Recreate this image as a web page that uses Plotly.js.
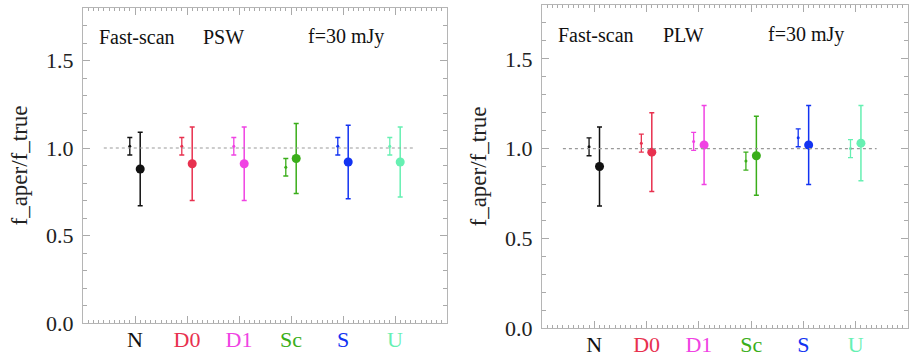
<!DOCTYPE html>
<html>
<head>
<meta charset="utf-8">
<script src="https://cdn.plot.ly/plotly-3.0.1.min.js"></script>
<style>html,body{margin:0;padding:0;background:#fff;}#chart{width:909px;height:364px;}</style>
</head>
<body>
<div id="chart"></div>
<script>
// Categories and colours
const categories = ["N", "D0", "D1", "Sc", "S", "U"];
const catColors = ["#111111", "#e8314f", "#f043e3", "#3aae1a", "#1233f2", "#66f0b2"];
const catPos = [1, 2, 3, 4, 5, 6];

// PSW panel (left): small bars (reference) and big points (aperture)
const pswSmallVal = [1.01, 1.01, 1.01, 0.89, 1.01, 1.01];
const pswSmallErr = [0.05, 0.05, 0.05, 0.05, 0.05, 0.05];
const pswBigVal = [0.88, 0.91, 0.91, 0.94, 0.92, 0.92];
const pswBigErr = [0.21, 0.21, 0.21, 0.20, 0.21, 0.20];

// PLW panel (right)
const plwSmallVal = [1.01, 1.03, 1.04, 0.93, 1.06, 1.00];
const plwSmallErr = [0.05, 0.05, 0.05, 0.05, 0.05, 0.05];
const plwBigVal = [0.90, 0.98, 1.02, 0.96, 1.02, 1.03];
const plwBigErr = [0.22, 0.22, 0.22, 0.22, 0.22, 0.21];

const panelNames = ["PSW", "PLW"];
const modeLabel = "Fast-scan";
const fluxLabel = "f=30 mJy";
const yTitle = "f_aper/f_true";
const offset = 0.1;

const FONT = "Liberation Serif";
const traces = [];

function addPanel(smallVal, smallErr, bigVal, bigErr, xa, ya) {
  for (let i = 0; i < categories.length; i++) {
    traces.push({
      x: [catPos[i] - offset], y: [smallVal[i]], xaxis: xa, yaxis: ya,
      type: "scatter", mode: "markers",
      marker: {size: 3, color: catColors[i]},
      error_y: {type: "data", array: [smallErr[i]], visible: true, color: catColors[i], thickness: 1.3, width: 2.5},
      showlegend: false, hoverinfo: "skip"
    });
    traces.push({
      x: [catPos[i] + offset], y: [bigVal[i]], xaxis: xa, yaxis: ya,
      type: "scatter", mode: "markers",
      marker: {size: 9, color: catColors[i]},
      error_y: {type: "data", array: [bigErr[i]], visible: true, color: catColors[i], thickness: 1.5, width: 2.5},
      showlegend: false, hoverinfo: "skip"
    });
  }
  traces.push({
    x: [0.4, 6.4], y: [1.0, 1.0], xaxis: xa, yaxis: ya,
    type: "scatter", mode: "lines",
    line: {color: "#999999", width: 1.2, dash: "dot"},
    showlegend: false, hoverinfo: "skip"
  });
}
addPanel(pswSmallVal, pswSmallErr, pswBigVal, pswBigErr, "x", "y");
addPanel(plwSmallVal, plwSmallErr, plwBigVal, plwBigErr, "x2", "y2");

const tickText = categories.map((c, i) => `<span style="color:${catColors[i]}">${c}</span>`);

function xAxis(domain, anchor) {
  return {
    domain: domain, anchor: anchor, range: [0, 7],
    tickmode: "array", tickvals: catPos, ticktext: tickText,
    ticks: "inside", ticklen: 7, tickwidth: 1, tickcolor: "#aaaaaa",
    minor: {dtick: 0.1, tick0: 0, ticks: "inside", ticklen: 3, tickcolor: "#aaaaaa", tickwidth: 1},
    showline: true, linecolor: "#b5b5b5", linewidth: 1, mirror: "ticks",
    showgrid: false, zeroline: false,
    tickfont: {family: FONT, size: 22, color: "#111"},
    ticklabelstandoff: -3
  };
}
function yAxis(domain, anchor) {
  return {
    domain: domain, anchor: anchor, range: [0, 1.8],
    tickvals: [0, 0.5, 1.0, 1.5], ticktext: ["0.0", "0.5", "1.0", "1.5"], tickmode: "array",
    ticks: "inside", ticklen: 7, tickwidth: 1, tickcolor: "#aaaaaa",
    minor: {dtick: 0.1, tick0: 0, ticks: "inside", ticklen: 4, tickcolor: "#aaaaaa", tickwidth: 1},
    showline: true, linecolor: "#b5b5b5", linewidth: 1, mirror: "ticks",
    showgrid: false, zeroline: false,
    tickfont: {family: FONT, size: 22, color: "#222"},
    ticklabelstandoff: 4,
    title: {text: yTitle, font: {family: FONT, size: 23, color: "#222"}, standoff: 12}
  };
}

const annotations = [];
[["x", "y"], ["x2", "y2"]].forEach((ax, k) => {
  const labels = [[1.04, modeLabel], [2.70, panelNames[k]], [5.05, fluxLabel]];
  labels.forEach(([xv, txt]) => {
    annotations.push({
      x: xv, y: 1.635, xref: ax[0], yref: ax[1], text: txt, showarrow: false,
      font: {family: FONT, size: 20, color: "#111"}, xanchor: "center", yanchor: "middle"
    });
  });
});

const layout = {
  width: 909, height: 364,
  margin: {l: 0, r: 0, t: 0, b: 0},
  font: {family: FONT, color: "#222"},
  paper_bgcolor: "#ffffff", plot_bgcolor: "#ffffff",
  showlegend: false,
  xaxis: xAxis([83 / 909, 447 / 909], "y"),
  yaxis: yAxis([41 / 364, 356 / 364], "x"),
  xaxis2: xAxis([542 / 909, 908 / 909], "y2"),
  yaxis2: yAxis([36 / 364, 359 / 364], "x2"),
  annotations: annotations
};

Plotly.newPlot("chart", traces, layout, {displayModeBar: false, staticPlot: true});
</script>
</body>
</html>
